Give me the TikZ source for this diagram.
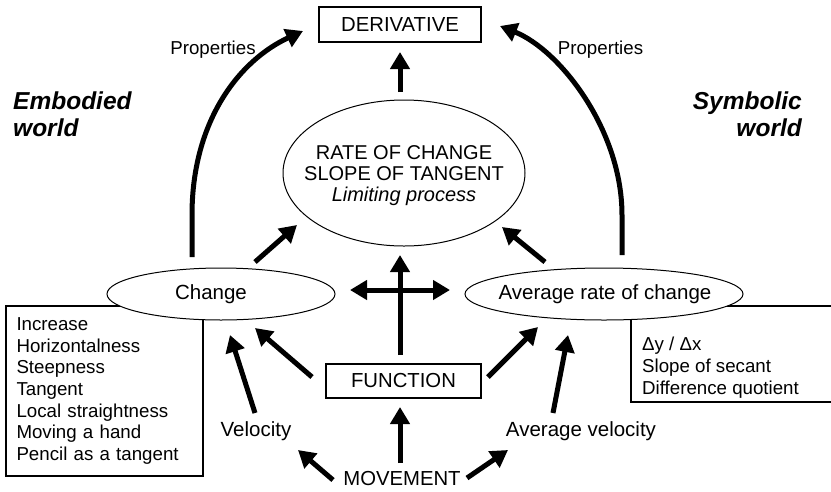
\documentclass[tikz,border=0pt]{standalone}
\usepackage{fontspec}
\setmainfont{Liberation Sans}
\usetikzlibrary{arrows.meta,calc,shapes.geometric}
\newcommand{\smsz}{\fontsize{18.7}{21.7}\selectfont}
\newcommand{\lbsz}{\fontsize{20.5}{22}\selectfont}
\newcommand{\capsz}{\fontsize{20.3}{22}\selectfont}
\newcommand{\midsz}{\fontsize{20}{21}\selectfont}
\newcommand{\bigsz}{\fontsize{24.5}{27}\selectfont\bfseries\itshape}
\begin{document}
\begin{tikzpicture}[x=1pt,y=-1pt,
  arr/.style={line width=5pt,-{Triangle[length=17pt,width=19pt]}},
  dblarr/.style={line width=5pt,{Triangle[length=17pt,width=19pt]}-{Triangle[length=17pt,width=19pt]}},
  boxnode/.style={draw,line width=1.2pt,inner sep=0pt},
  ell/.style={ellipse,draw,line width=1pt,inner sep=0pt,fill=white},
  txt/.style={inner sep=0pt}]
\useasboundingbox (0,0) rectangle (831,491);

% side texts
\node[txt,anchor=north west,align=left,font=\bigsz] (emb) at (13,92) {Embodied\\world};
\node[txt,anchor=north east,align=right,font=\bigsz] (sym) at (802,92) {Symbolic\\world};
\node[txt,font=\smsz] (propL) at (213,50) {Properties};
\node[txt,font=\smsz] (propR) at (600.5,50) {Properties};

% top
\node[boxnode,minimum width=162,minimum height=35,font=\capsz] (deriv) at (400,24.5) {DERIVATIVE};
\node[ell,minimum width=242,minimum height=146] (rate) at (404,173) {};
\node[txt,align=center,font=\midsz] (ratetxt) at (404,176) {RATE OF CHANGE\\SLOPE OF TANGENT\\\textit{Limiting process}};

% left and right boxes
\node[boxnode,minimum width=197,minimum height=170,text width=176pt,align=left,font=\smsz] (lbox) at (104.5,391)
  {Increase\\Horizontalness\\Steepness\\Tangent\\Local straightness\\Moving a hand\\Pencil as a tangent};
\coordinate (rbtr) at (831,306);
\coordinate (rbbr) at (831,402);
\node[txt,anchor=west,align=left,font=\smsz] (rbox) at (642,367.5) {Δy / Δx\\Slope of secant\\Difference quotient};
\draw[line width=1.2pt] (rbtr) -| ($(rbox.west)+(-11,34.5)$) -- (rbbr);

% middle ellipses
\node[ell,minimum width=228,minimum height=52] (chg) at (221,294) {};
\node[txt,font=\lbsz] (chgtxt) at (211,294) {Change};
\node[ell,minimum width=278,minimum height=52] (avg) at (604,294) {};
\node[txt,font=\lbsz] (avgtxt) at (605,294) {Average rate of change};

% lower nodes
\node[boxnode,minimum width=155,minimum height=34,font=\capsz] (func) at (403.5,381) {FUNCTION};
\node[txt,font=\capsz] (mov) at (402,479) {MOVEMENT};
\node[txt,font=\lbsz] (vel) at (256,431) {Velocity};
\node[txt,font=\lbsz] (avel) at (581,431) {Average velocity};

% straight arrows
\draw[arr] ($(rate)+(-4,-81)$) -- ($(deriv)+(0,27.5)$);
\draw[arr] ($(chg)+(34,-32)$) -- ($(rate)+(-107,52)$);
\draw[arr] ($(avg)+(-59,-32)$) -- ($(rate)+(98,54)$);
\draw[arr] ($(func)+(-3.5,-26)$) -- ($(rate)+(-4,82)$);
\draw[dblarr] ($(chg)+(129,-4)$) -- ($(avg)+(-154,-4)$);
\draw[arr] ($(func)+(-91.5,-4)$) -- ($(chg)+(34,34)$);
\draw[arr] ($(vel)+(-1,-18)$) -- ($(chg)+(9,41)$);
\draw[arr] ($(mov)+(-69,1)$) -- ($(vel)+(42,19)$);
\draw[arr] ($(mov)+(-2,-16)$) -- ($(func)+(-3.5,26)$);
\draw[arr] ($(mov)+(65,-1)$) -- ($(avel)+(-73,19)$);
\draw[arr] ($(func)+(84.5,-4)$) -- ($(avg)+(-66,33)$);
\draw[arr] ($(avel)+(-28,-18)$) -- ($(avg)+(-36,41)$);

% curved arrows
\draw[arr] ($(chg)+(-29,-37)$) -- ($(chg)+(-29,-79)$) .. controls (192,120) and (240,60) .. ($(deriv)+(-97,6.5)$);
\draw[arr] ($(avg)+(18,-39)$) -- ($(avg)+(18,-79)$) .. controls (622,130) and (560,50) .. ($(deriv)+(100,1.5)$);
\end{tikzpicture}
\end{document}
